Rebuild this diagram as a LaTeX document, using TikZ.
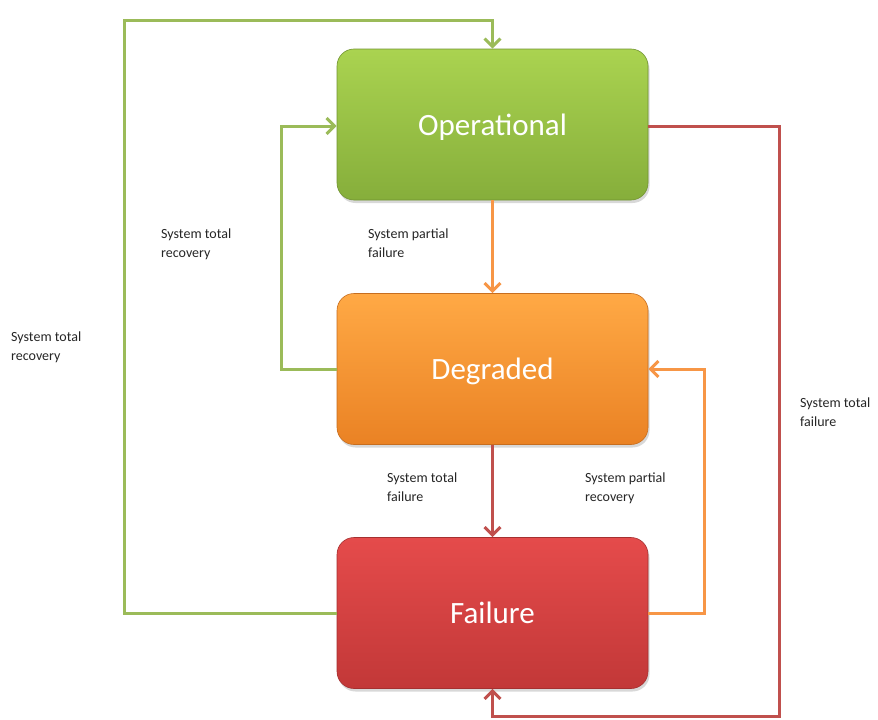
\documentclass[tikz,border=0pt]{standalone}
\usepackage{fontspec}
\setmainfont{Carlito}
\usetikzlibrary{arrows.meta,shadows}
\definecolor{gtop}{HTML}{AAD350}
\definecolor{gbot}{HTML}{86AE3B}
\definecolor{gline}{HTML}{9BBB59}
\definecolor{otop}{HTML}{FFA945}
\definecolor{obot}{HTML}{EA8224}
\definecolor{oline}{HTML}{F79646}
\definecolor{rtop}{HTML}{E54B4B}
\definecolor{rbot}{HTML}{C23838}
\definecolor{rline}{HTML}{C0504D}
\begin{document}
\begin{tikzpicture}[x=1pt,y=-1pt,
  statebox/.style={rounded corners=17pt, minimum width=311pt, minimum height=151pt,
    inner sep=0pt, text=white, font=\fontsize{31}{37}\selectfont, text depth=0pt,
    drop shadow={opacity=0.3, shadow xshift=1.5pt, shadow yshift=-3pt}},
  conn/.style={line width=3pt, -{Straight Barb[length=8pt,width=16pt]}},
  lbl/.style={anchor=north west, inner sep=0pt, align=left, text=black!85,
    font=\fontsize{14}{19}\selectfont}]
\useasboundingbox (0,0) rectangle (878,720);
\fill[white] (0,0) rectangle (878,720);

\node[statebox, top color=gtop, bottom color=gbot, draw=gbot!85!black, line width=0.6pt] (op) at (492.5,124.5) {Operational};
\node[statebox, top color=otop, bottom color=obot, draw=obot!85!black, line width=0.6pt] (deg) at (492.5,369) {Degraded};
\node[statebox, top color=rtop, bottom color=rbot, draw=rbot!85!black, line width=0.6pt] (fail) at (492.5,613) {Failure};

% connectors
\draw[conn, gline] (fail.west) -- (124,613) -- (124,20) -- (492.5,20) -- (op.north);
\draw[conn, gline] (deg.west) -- (281,369) -- (281,126) -- (op.west |- 0,126);
\draw[conn, oline] (op.south) -- (deg.north);
\draw[conn, rline] (deg.south) -- (fail.north);
\draw[conn, oline] (fail.east) -- (704,613) -- (704,369) -- (deg.east);
\draw[conn, rline] (op.east |- 0,126) -- (779,126) -- (779,716) -- (492.5,716) -- (fail.south);

% labels
\node[lbl] (l1) at (11,332) {System total\\recovery};
\node[lbl] (l2) at (161,229) {System total\\recovery};
\node[lbl] (l3) at (368,229) {System partial\\failure};
\node[lbl] (l4) at (387,473) {System total\\failure};
\node[lbl] (l5) at (585,473) {System partial\\recovery};
\node[lbl] (l6) at (800,398) {System total\\failure};
\end{tikzpicture}
\end{document}
